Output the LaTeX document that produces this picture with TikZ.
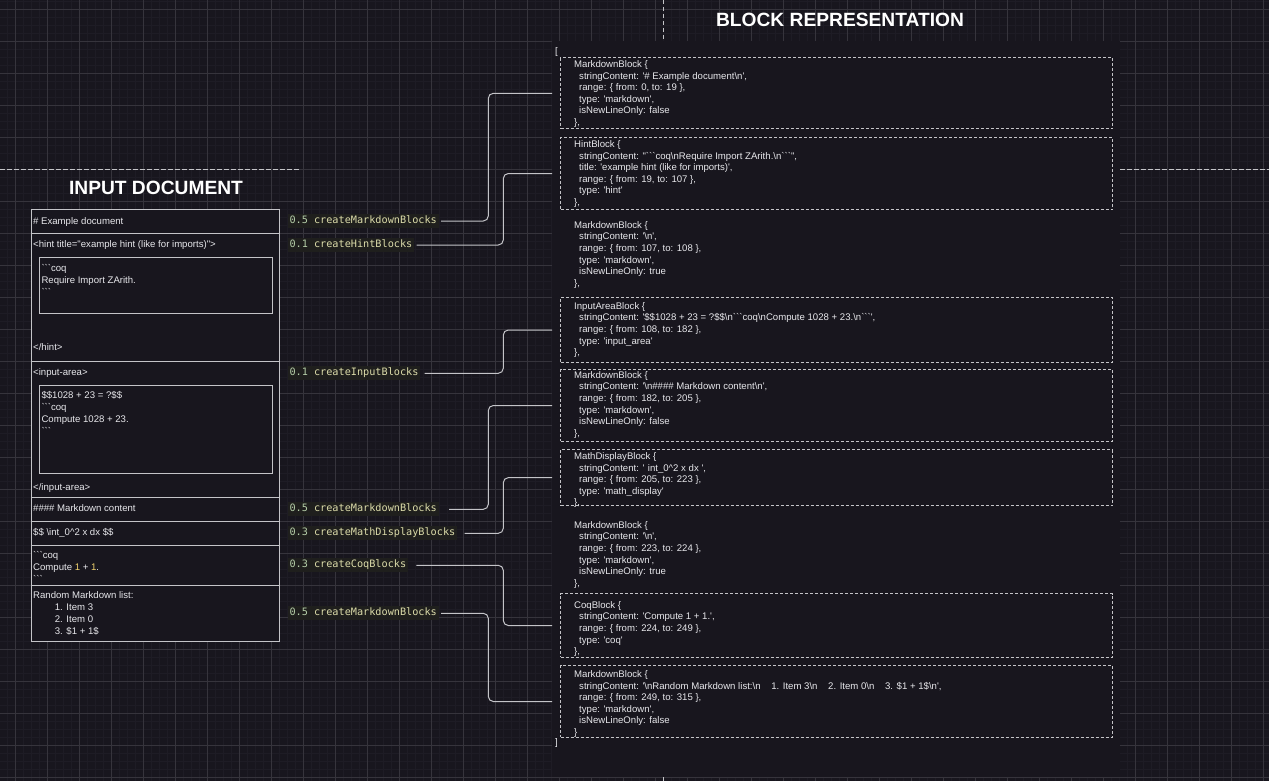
\documentclass[tikz,border=0pt]{standalone}
\usepackage{fontspec}
\setmainfont{Liberation Sans}[Ligatures=TeXOff]
\setmonofont{DejaVu Sans Mono}
\usetikzlibrary{positioning,calc}

\definecolor{canvas}{RGB}{24,22,30}
\definecolor{gridminor}{RGB}{30,28,37}
\definecolor{gridmajor}{RGB}{54,52,60}
\definecolor{ink}{RGB}{232,232,236}
\definecolor{edge}{RGB}{196,196,200}
\definecolor{codebg}{RGB}{31,31,29}
\definecolor{numcol}{RGB}{181,206,168}
\definecolor{fncol}{RGB}{220,220,170}
\definecolor{hlnum}{RGB}{240,210,110}

\newcommand{\bsn}{\textbackslash n}
\newcommand{\ind}{\hspace*{5pt}}
\newcommand{\upcaret}{\char94 }
\newcommand{\fnname}[2]{\textcolor{numcol}{#1} \textcolor{fncol}{#2}}

\tikzset{
  minorline/.style={draw=gridminor, line width=1pt},
  majorline/.style={draw=gridmajor, line width=1pt},
  guide/.style={draw=edge, dash pattern=on 4.5pt off 2.5pt, line width=1pt},
  docline/.style={draw=edge, line width=1pt},
  doctext/.style={font=\fontsize{9.6}{12}\selectfont, text=ink, align=left, inner sep=0pt, anchor=base west},
  blocktext/.style={font=\fontsize{9.6}{11.6}\selectfont, text=ink, align=left, inner sep=0pt, anchor=base west},
  blockbox/.style={draw=edge, dash pattern=on 3pt off 2pt, line width=1pt, minimum width=552pt, anchor=north west, inner sep=0pt},
  heading/.style={font=\fontsize{19.2}{21}\selectfont\bfseries, text=white},
  fnlabel/.style={font=\fontsize{10.2}{12}\selectfont\ttfamily, fill=codebg, inner sep=2pt, text height=7.5pt, text depth=2.5pt, anchor=west},
  conn/.style={draw=edge, line width=1pt, rounded corners=5pt},
}

\begin{document}
\begin{tikzpicture}[x=1pt,y=-1pt]
  % canvas and grid
  \fill[canvas] (0,0) rectangle (1269,781);
  \useasboundingbox (0,0) rectangle (1269,781);
  \foreach \x in {-0.7,7.3,...,1270} \draw[minorline] (\x,0) -- (\x,781);
  \foreach \y in {1.3,9.3,...,782} \draw[minorline] (0,\y) -- (1269,\y);
  \foreach \x in {15.3,47.3,...,1270} \draw[majorline] (\x,0) -- (\x,781);
  \foreach \y in {9.3,41.3,...,782} \draw[majorline] (0,\y) -- (1269,\y);
  \draw[guide] (0,169.3) -- (300,169.3);
  \draw[guide] (1120,169.3) -- (1269,169.3);
  \draw[guide] (663,0) -- (663,41);
  \draw[guide] (663,777) -- (663,781);

  % input document (multi-line nodes sit on their last baseline)
  \node[heading] (inTitle) at (156,188.3) {INPUT DOCUMENT};
  \draw[docline, fill=canvas] (31.7,209.3) rectangle (279.3,641);
  \foreach \y in {233,361.3,497,521.3,545.3,585.3}
    \draw[docline] (31.7,\y) -- (279.3,\y);
  \draw[docline] (39.7,257.3) rectangle (272,313.3);
  \draw[docline] (39.7,385.3) rectangle (272,473.3);
  \node[doctext] (docHead) at (33,224.2) {\# Example document};
  \node[doctext] (docHint) at (33,247.2) {<hint title="example hint (like for imports)">};
  \node[doctext] (docHintIn) at (41.3,295.2) {```coq\\Require Import ZArith.\\```};
  \node[doctext] (docHintEnd) at (33,350.5) {</hint>};
  \node[doctext] (docArea) at (33,375.2) {<input-area>};
  \node[doctext] (docAreaIn) at (41.3,434.8) {\$\$1028 + 23 = ?\$\$\\```coq\\Compute 1028 + 23.\\```};
  \node[doctext] (docAreaEnd) at (33,490.8) {</input-area>};
  \node[doctext] (docSub) at (33,511.2) {\#\#\#\# Markdown content};
  \node[doctext] (docMath) at (33,535.2) {\$\$ \textbackslash int\_0\upcaret2 x dx \$\$};
  \node[doctext] (docCoq) at (33,582.8) {```coq\\Compute \textcolor{hlnum}{1} + \textcolor{hlnum}{1}.\\```};
  \node[doctext] (docList) at (33,634.2) {Random Markdown list:\\
    \hspace*{21.7pt}1. Item 3\\ \hspace*{21.7pt}2. Item 0\\ \hspace*{21.7pt}3. \$1 + 1\$};

  % parser labels
  \node[fnlabel] (lab1) at (287.3,221) {\fnname{0.5}{createMarkdownBlocks}};
  \node[fnlabel] (lab2) at (287.3,245) {\fnname{0.1}{createHintBlocks}};
  \node[fnlabel] (lab3) at (287.3,373.3) {\fnname{0.1}{createInputBlocks}};
  \node[fnlabel] (lab4) at (287.3,509.3) {\fnname{0.5}{createMarkdownBlocks}};
  \node[fnlabel] (lab5) at (287.3,533.3) {\fnname{0.3}{createMathDisplayBlocks}};
  \node[fnlabel] (lab6) at (287.3,565.3) {\fnname{0.3}{createCoqBlocks}};
  \node[fnlabel] (lab7) at (287.3,613.3) {\fnname{0.5}{createMarkdownBlocks}};

  % block representation
  \fill[canvas] (552,41) rectangle (1120,777);
  \node[heading] (outTitle) at (840,20) {BLOCK REPRESENTATION};
  \node[blocktext] (openBr) at (555,54.7) {[};
  \node[blocktext] (closeBr) at (555,745.6) {]};
  \node[blockbox, minimum height=71pt] (blk1) at (560,57.3) {};
  \node[blockbox, minimum height=72pt] (blk2) at (560,137) {};
  \node[blockbox, minimum height=64.4pt] (blk4) at (560,297.3) {};
  \node[blockbox, minimum height=71.4pt] (blk5) at (560,369.3) {};
  \node[blockbox, minimum height=55.7pt] (blk6) at (560,449.3) {};
  \node[blockbox, minimum height=63.4pt] (blk8) at (560,593.3) {};
  \node[blockbox, minimum height=71.4pt] (blk9) at (560,665.3) {};

  \node[blocktext] (txt1) at (574,125.5) {MarkdownBlock \{\\
    \ind stringContent: '\# Example document\bsn',\\
    \ind range: \{ from: 0, to: 19 \},\\
    \ind type: 'markdown',\\
    \ind isNewLineOnly: false\\
    \},};
  \node[blocktext] (txt2) at (574,205.5) {HintBlock \{\\
    \ind stringContent: "```coq\bsn Require Import ZArith.\bsn```",\\
    \ind title: 'example hint (like for imports)',\\
    \ind range: \{ from: 19, to: 107 \},\\
    \ind type: 'hint'\\
    \},};
  \node[blocktext] (txt3) at (574,286.2) {MarkdownBlock \{\\
    \ind stringContent: '\bsn',\\
    \ind range: \{ from: 107, to: 108 \},\\
    \ind type: 'markdown',\\
    \ind isNewLineOnly: true\\
    \},};
  \node[blocktext] (txt4) at (574,355.6) {InputAreaBlock \{\\
    \ind stringContent: '\$\$1028 + 23 = ?\$\$\bsn```coq\bsn Compute 1028 + 23.\bsn```',\\
    \ind range: \{ from: 108, to: 182 \},\\
    \ind type: 'input\_area'\\
    \},};
  \node[blocktext] (txt5) at (574,436.2) {MarkdownBlock \{\\
    \ind stringContent: '\bsn\#\#\#\# Markdown content\bsn',\\
    \ind range: \{ from: 182, to: 205 \},\\
    \ind type: 'markdown',\\
    \ind isNewLineOnly: false\\
    \},};
  \node[blocktext] (txt6) at (574,505.9) {MathDisplayBlock \{\\
    \ind stringContent: ' int\_0\upcaret2 x dx ',\\
    \ind range: \{ from: 205, to: 223 \},\\
    \ind type: 'math\_display'\\
    \},};
  \node[blocktext] (txt7) at (574,586.2) {MarkdownBlock \{\\
    \ind stringContent: '\bsn',\\
    \ind range: \{ from: 223, to: 224 \},\\
    \ind type: 'markdown',\\
    \ind isNewLineOnly: true\\
    \},};
  \node[blocktext] (txt8) at (574,654.6) {CoqBlock \{\\
    \ind stringContent: 'Compute 1 + 1.',\\
    \ind range: \{ from: 224, to: 249 \},\\
    \ind type: 'coq'\\
    \},};
  \node[blocktext] (txt9) at (574,735.5) {MarkdownBlock \{\\
    \ind stringContent: '\bsn Random Markdown list:\bsn\ \ \ \ 1. Item 3\bsn\ \ \ \ 2. Item 0\bsn\ \ \ \ 3. \$1 + 1\$\bsn',\\
    \ind range: \{ from: 249, to: 315 \},\\
    \ind type: 'markdown',\\
    \ind isNewLineOnly: false\\
    \}};

  % connectors
  \coordinate (busA) at (488.3,0);
  \coordinate (busB) at (503.3,0);
  \draw[conn] ([xshift=2pt]lab1.east) -| (busA |- blk1.west) -- ([xshift=-8pt]blk1.west);
  \draw[conn] ([xshift=2pt]lab2.east) -| (busB |- blk2.west) -- ([xshift=-8pt]blk2.west);
  \draw[conn] ([xshift=4pt]lab3.east) -| (busB |- blk4.west) -- ([xshift=-8pt]blk4.west);
  \draw[conn] ([xshift=10pt]lab4.east) -| (busA |- blk5.west) -- ([xshift=-8pt]blk5.west);
  \draw[conn] ([xshift=7pt]lab5.east) -| (busB |- blk6.west) -- ([xshift=-8pt]blk6.west);
  \draw[conn] ([xshift=8pt]lab6.east) -| (busB |- blk8.west) -- ([xshift=-8pt]blk8.west);
  \draw[conn] ([xshift=2pt]lab7.east) -| (busA |- blk9.west) -- ([xshift=-8pt]blk9.west);
\end{tikzpicture}
\end{document}
